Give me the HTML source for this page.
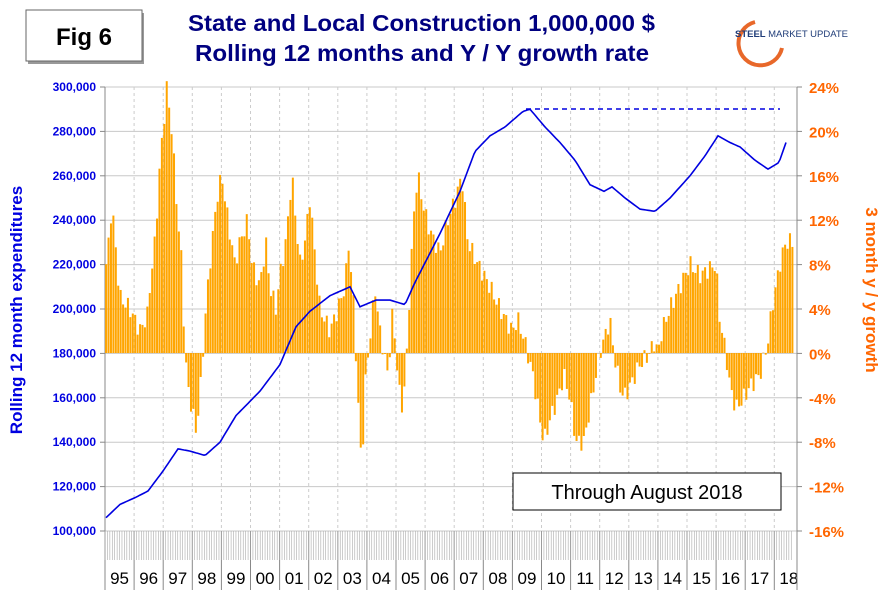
<!DOCTYPE html><html><head><style>body{margin:0;background:#fff;width:892px;height:596px;overflow:hidden;font-family:"Liberation Sans",Arial,sans-serif}</style></head><body>
<svg id="s" width="892" height="596" xmlns="http://www.w3.org/2000/svg" font-family="Liberation Sans, Arial, sans-serif">
<rect x="28" y="13" width="116" height="51" fill="#999"/>
<rect x="26" y="10" width="116" height="51" fill="#fff" stroke="#666"/>
<text x="84" y="45" font-size="24" font-weight="bold" text-anchor="middle">Fig 6</text>
<text x="188" y="31" font-size="23" font-weight="bold" fill="#000080" textLength="467" lengthAdjust="spacingAndGlyphs">State and Local Construction 1,000,000 $</text>
<text x="195" y="61" font-size="23" font-weight="bold" fill="#000080" textLength="454" lengthAdjust="spacingAndGlyphs">Rolling 12 months and Y / Y growth rate</text>
<path d="M755 22 A22 22 0 1 0 782 48" fill="none" stroke="#e8682a" stroke-width="4"/>
<text x="735" y="37" font-size="9.5" font-weight="bold" fill="#1f3c78">STEEL <tspan font-weight="normal">MARKET UPDATE</tspan></text>
<g id="grid"></g><g id="bars"></g><g id="ln"></g>
<rect x="513" y="473" width="268" height="37" fill="#fff" stroke="#000"/>
<text x="647" y="499" font-size="20" text-anchor="middle">Through August 2018</text>
<text transform="translate(22,310) rotate(-90)" font-size="17" font-weight="bold" fill="#0000e0" text-anchor="middle">Rolling 12 month expenditures</text>
<text transform="translate(866,290) rotate(90)" font-size="17" font-weight="bold" fill="#ff6600" text-anchor="middle">3 month y / y growth</text>
</svg>
<script>
var NS="http://www.w3.org/2000/svg",L=105,R=797,T=87,B=531,YW=29.1;
function el(p,t,a,tx){var e=document.createElementNS(NS,t);for(var k in a)e.setAttribute(k,a[k]);if(tx!=null)e.textContent=tx;document.getElementById(p).appendChild(e);return e}
for(var i=0;i<=10;i++){var y=B-i*44.4;el("grid","line",{x1:L,x2:R,y1:y,y2:y,stroke:"#c8c8c8"});
el("grid","line",{x1:L-5,x2:L,y1:y,y2:y,stroke:"#888"});el("grid","line",{x1:R,x2:R+5,y1:y,y2:y,stroke:"#888"});
el("grid","text",{x:L-9,y:y+4,"font-size":12,"font-weight":"bold",fill:"#0000e0","text-anchor":"end"},(100+i*20)+",000");
el("grid","text",{x:R+12,y:y+6,"font-size":15,fill:"#ff6600","font-weight":"bold"},(-16+i*4)+"%");}
var yrs=["95","96","97","98","99","00","01","02","03","04","05","06","07","08","09","10","11","12","13","14","15","16","17","18"];
for(var j=0;j<24;j++){var x=L+j*YW;el("grid","line",{x1:x,x2:x,y1:T,y2:B,stroke:"#ccc","stroke-dasharray":"3,3"});
el("grid","line",{x1:x,x2:x,y1:B,y2:590,stroke:"#888"});
el("grid","text",{x:x+YW/2,y:584,"font-size":17,"text-anchor":"middle"},yrs[j]);}
el("grid","line",{x1:R,x2:R,y1:T,y2:590,stroke:"#888"});
el("grid","line",{x1:L,x2:L,y1:T,y2:B,stroke:"#888"});
for(var m=0;m<284;m++){var x=L+m*YW/12;el("grid","line",{x1:x,x2:x,y1:B,y2:560,stroke:"#aaa","stroke-width":0.6});}
function interp(k,x){if(x<=k[0][0])return k[0][1];for(var i=1;i<k.length;i++)if(x<=k[i][0]){var a=k[i-1],b=k[i];return a[1]+(b[1]-a[1])*(x-a[0])/(b[0]-a[0])}return k[k.length-1][1]}
var bk=[[107,8],[112,13.5],[120,5],[130,4],[140,2],[148,3.5],[150,6],[155,10],[158,14],[160,17],[167,24],[172,20],[178,12],[182,8],[185,0],[188,-3],[196,-7],[200,-4],[203,0],[206,4],[210,8],[217,14],[222,16],[228,12],[235,8],[240,10],[248,12],[252,8],[260,6],[266,10],[270,6],[276,4],[280,7],[286,10],[292,16],[296,12],[300,8],[305,10],[310,14],[316,8],[320,4],[330,2],[338,4],[345,6],[349,10],[354,4],[356,0],[360,-8],[362,-10],[366,-2],[372,3],[375,6],[380,2],[388,-2],[393,4],[396,0],[400,-4],[403,-5],[407,0],[410,6],[415,14],[418,16],[424,13],[430,11],[440,9],[448,12],[456,14],[462,16],[468,10],[478,8],[490,6],[500,4],[512,2],[518,3],[525,1],[533,-2],[540,-6],[544,-8],[550,-6],[558,-4],[564,-2],[570,-4],[576,-8],[584,-8],[594,-3],[600,0],[610,3],[614,0],[620,-3],[624,-4],[630,-3],[640,-1],[650,0],[654,1],[658,0],[662,2],[670,4],[680,6],[690,8],[700,7],[716,8],[720,3],[726,0],[730,-3],[736,-5],[744,-4],[750,-3],[760,-2],[768,1],[772,4],[780,8],[786,10]];
for(var m=0;m<284;m++){var x=L+(m+0.5)*YW/12,v=interp(bk,x)+Math.sin(m*2.3)*0.8,y=353-v*11.1;
el("bars","rect",{x:x-1.1,y:Math.min(y,353),width:2,height:Math.abs(353-y),fill:"#ffa500"});}
var lk=[[106,106],[120,112],[135,115],[148,118],[163,127],[178,137],[190,136],[205,134],[220,140],[236,152],[260,163],[280,175],[296,192],[310,199],[330,206],[350,210],[360,201],[376,204],[390,204],[405,202],[415,212],[440,234],[460,253],[475,271],[490,278],[505,282],[523,289],[530,290],[545,282],[560,275],[575,267],[590,256],[604,253],[612,255],[625,250],[640,245],[655,244],[670,250],[690,260],[705,269],[718,278],[730,275],[740,273],[755,267],[768,263],[779,266],[786,275]];
var d="";for(var x=106;x<=786;x+=2){d+=(x==106?"M":"L")+x+" "+(B-(interp(lk,x)-100)*2.22).toFixed(1)}
el("ln","path",{d:d,fill:"none",stroke:"#0000e0","stroke-width":1.6});
el("ln","line",{x1:526,x2:780,y1:109,y2:109,stroke:"#0000e0","stroke-width":1.6,"stroke-dasharray":"5,4"});
</script></body></html>
